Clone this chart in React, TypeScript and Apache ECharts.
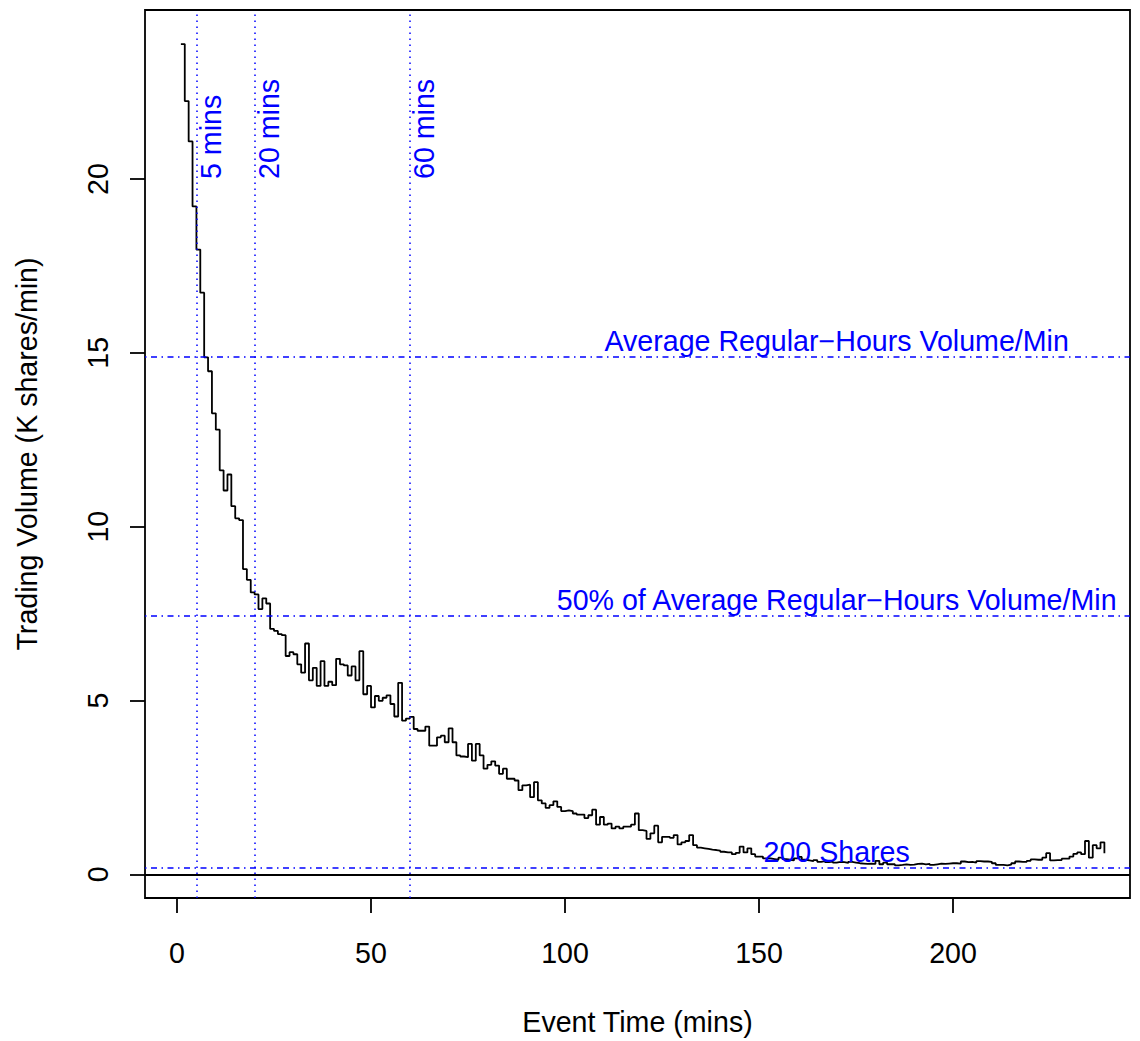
import React, { useEffect, useRef } from 'react';
import * as echarts from 'echarts';

// Trading volume (K shares/min) for event minutes 1..239
const volume: number[] = [
  23.88, 22.24, 21.08, 19.21, 17.97, 16.73, 14.87, 14.47, 13.26, 12.79,
  11.62, 11.04, 11.50, 10.59, 10.24, 10.19, 8.78, 8.47, 8.11, 8.05,
  7.63, 7.94, 7.79, 7.06, 7.00, 6.91, 6.88, 6.28, 6.39, 6.33,
  6.04, 5.80, 6.64, 5.58, 5.94, 5.42, 6.13, 5.42, 5.54, 5.44,
  6.20, 6.04, 6.01, 5.72, 5.98, 5.58, 6.42, 5.18, 5.42, 4.80,
  5.13, 4.99, 5.08, 5.15, 4.90, 4.54, 5.51, 4.42, 4.48, 4.53,
  4.18, 4.13, 4.13, 4.25, 3.70, 3.70, 3.94, 3.99, 3.80, 4.20,
  3.80, 3.42, 3.39, 3.37, 3.75, 3.27, 3.75, 3.42, 3.04, 3.15,
  3.25, 3.13, 2.89, 3.04, 2.75, 2.75, 2.70, 2.42, 2.56, 2.58,
  2.22, 2.65, 2.13, 2.04, 1.91, 1.99, 2.10, 1.94, 1.82, 1.84,
  1.82, 1.75, 1.72, 1.72, 1.62, 1.70, 1.86, 1.43, 1.65, 1.43,
  1.46, 1.32, 1.37, 1.32, 1.37, 1.37, 1.43, 1.75, 1.27, 1.25,
  1.02, 1.18, 1.40, 0.92, 1.08, 1.08, 1.05, 1.13, 0.86, 0.92,
  0.96, 1.13, 0.84, 0.77, 0.75, 0.73, 0.71, 0.70, 0.68, 0.65,
  0.63, 0.63, 0.58, 0.62, 0.80, 0.63, 0.75, 0.58, 0.51, 0.51,
  0.46, 0.46, 0.44, 0.42, 0.48, 0.44, 0.42, 0.40, 0.46, 0.50,
  0.42, 0.40, 0.38, 0.41, 0.36, 0.38, 0.35, 0.37, 0.34, 0.36,
  0.35, 0.33, 0.36, 0.34, 0.32, 0.31, 0.30, 0.31, 0.30, 0.39,
  0.29, 0.34, 0.29, 0.29, 0.26, 0.27, 0.29, 0.27, 0.28, 0.30,
  0.31, 0.29, 0.30, 0.27, 0.29, 0.31, 0.30, 0.31, 0.32, 0.32,
  0.31, 0.37, 0.35, 0.36, 0.34, 0.38, 0.37, 0.37, 0.36, 0.32,
  0.27, 0.27, 0.26, 0.28, 0.32, 0.37, 0.36, 0.36, 0.39, 0.43,
  0.42, 0.42, 0.48, 0.61, 0.40, 0.41, 0.41, 0.45, 0.45, 0.51,
  0.59, 0.63, 0.58, 0.96, 0.48, 0.84, 0.75, 0.92, 0.61,
];
const firstMinute = 1;

const xTicks = [0, 50, 100, 150, 200];
const yTicks = [0, 5, 10, 15, 20];

const eventMinutes = [5, 20, 60];
const eventLabels = ['5 mins', '20 mins', '60 mins'];
const eventLabelLevel = 20;

const refLevels = [14.88, 7.44, 0.2];
const refLabels = [
  'Average Regular\u2212Hours Volume/Min',
  '50% of Average Regular\u2212Hours Volume/Min',
  '200 Shares',
];
const refLabelMinute = 170;

const xMin = -8.25;
const xMax = 245.6;
const yMin = -0.68;
const yMax = 24.86;

export default function App() {
  const ref = useRef<HTMLDivElement>(null);

  useEffect(() => {
    document.body.style.margin = '0';
    const chart = echarts.init(ref.current!, null, { renderer: 'svg' });
    const font = "'Liberation Sans', Arial, Helvetica, sans-serif";
    const fs = 28.6;
    const blue = '#0000FF';
    const data = volume.map((v, i) => [firstMinute + i, v]);

    const option: any = {
      animation: false,
      backgroundColor: '#ffffff',
      grid: {
        left: 145,
        right: 10,
        top: 10,
        bottom: 137,
        show: true,
        borderColor: '#000',
        borderWidth: 1.8,
        backgroundColor: 'transparent',
      },
      xAxis: {
        type: 'value',
        min: xMin,
        max: xMax,
        axisLine: { show: false, onZero: false },
        axisTick: {
          show: true,
          inside: false,
          length: 15,
          customValues: xTicks,
          lineStyle: { color: '#000', width: 1.8 },
        },
        axisLabel: {
          customValues: xTicks,
          fontSize: fs,
          color: '#000',
          fontFamily: font,
          margin: 40,
        },
        splitLine: { show: false },
        name: 'Event Time (mins)',
        nameLocation: 'middle',
        nameGap: 109,
        nameTextStyle: { fontSize: fs, color: '#000', fontFamily: font },
      },
      yAxis: {
        type: 'value',
        min: yMin,
        max: yMax,
        axisLine: { show: false, onZero: false },
        axisTick: {
          show: true,
          inside: false,
          length: 15,
          customValues: yTicks,
          lineStyle: { color: '#000', width: 1.8 },
        },
        axisLabel: {
          customValues: yTicks,
          fontSize: fs,
          color: '#000',
          fontFamily: font,
          rotate: 90,
          margin: 33,
        },
        splitLine: { show: false },
        name: 'Trading Volume (K shares/min)',
        nameLocation: 'middle',
        nameRotate: 90,
        nameGap: 104,
        nameTextStyle: { fontSize: fs, color: '#000', fontFamily: font },
      },
      series: [
        {
          type: 'line',
          step: 'end',
          data,
          showSymbol: false,
          symbol: 'none',
          lineStyle: { color: '#000', width: 1.8 },
          z: 3,
          markLine: {
            silent: true,
            symbol: ['none', 'none'],
            label: { show: false },
            animation: false,
            data: [
              { yAxis: 0, lineStyle: { color: '#000', type: 'solid', width: 1.8 } },
              ...refLevels.map((v) => ({
                yAxis: v,
                lineStyle: { color: blue, type: [1.5, 4.5, 6, 4.5], width: 1.5 },
              })),
              ...eventMinutes.map((m) => ({
                xAxis: m,
                lineStyle: { color: blue, type: [1.5, 4.5], width: 1.5 },
              })),
            ],
          },
        },
      ],
    };
    chart.setOption(option);

    const graphics: any[] = [];
    refLevels.forEach((v, i) => {
      const [x, y] = chart.convertToPixel({ gridIndex: 0 }, [refLabelMinute, v]) as number[];
      graphics.push({
        type: 'text',
        x,
        y: y - 1,
        z: 10,
        style: {
          text: refLabels[i],
          fill: blue,
          fontSize: fs,
          fontFamily: font,
          align: 'center',
          verticalAlign: 'bottom',
        },
      });
    });
    eventMinutes.forEach((m, i) => {
      const [x, y] = chart.convertToPixel({ gridIndex: 0 }, [m, eventLabelLevel]) as number[];
      graphics.push({
        type: 'text',
        x,
        y,
        rotation: Math.PI / 2,
        z: 10,
        style: {
          text: eventLabels[i],
          fill: blue,
          fontSize: fs,
          fontFamily: font,
          align: 'left',
          verticalAlign: 'top',
        },
      });
    });
    chart.setOption({ graphic: graphics });

    return () => chart.dispose();
  }, []);

  return (
    <div
      ref={ref}
      style={{ position: 'absolute', left: 0, top: 0, width: 1140, height: 1041 }}
    />
  );
}
